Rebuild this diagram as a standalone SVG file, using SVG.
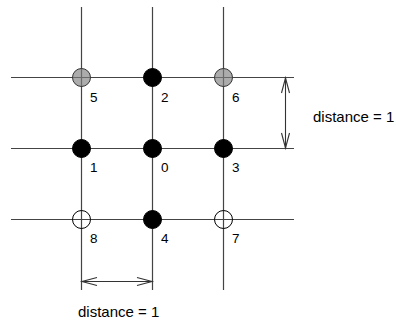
<svg xmlns="http://www.w3.org/2000/svg" width="396" height="324" viewBox="0 0 396 324">
<style>
.grid{stroke:#444;stroke-width:1.2;fill:none}
.dim{stroke:#333;stroke-width:1.1;fill:none}
.full{fill:#000;stroke:#000;stroke-width:1}
.half{fill:#808080;fill-opacity:0.65;stroke:#333;stroke-width:1}
.empty{fill:none;stroke:#000;stroke-width:1}
text{font-family:"Liberation Sans",Arial,sans-serif;fill:#000}
.lbl{font-size:13.5px}
.dist{font-size:15px}
</style>
<rect width="396" height="324" fill="#fff"/>
<g id="connectors">
<line class="grid" x1="81.5" y1="7" x2="81.5" y2="290"/>
<line class="grid" x1="152.5" y1="7" x2="152.5" y2="290"/>
<line class="grid" x1="223.5" y1="7" x2="223.5" y2="290"/>
<line class="grid" x1="11" y1="77.5" x2="294" y2="77.5"/>
<line class="grid" x1="11" y1="148.5" x2="294" y2="148.5"/>
<line class="grid" x1="11" y1="219.5" x2="294" y2="219.5"/>
<g id="dim-vertical">
<line class="dim" x1="285.5" y1="78" x2="285.5" y2="148"/>
<polyline class="dim" points="281.5,93 285.5,78 289.5,93"/>
<polyline class="dim" points="281.5,133 285.5,148 289.5,133"/>
</g>
<g id="dim-horizontal">
<line class="dim" x1="82" y1="281.5" x2="152" y2="281.5"/>
<polyline class="dim" points="97,277.5 82,281.5 97,285.5"/>
<polyline class="dim" points="137,277.5 152,281.5 137,285.5"/>
</g>
</g>
<g id="nodes">
<g id="n5"><circle class="half" cx="81.5" cy="77.5" r="9"/><text class="lbl" x="90" y="102">5</text></g>
<g id="n2"><circle class="full" cx="152.5" cy="77.5" r="9"/><text class="lbl" x="161" y="102">2</text></g>
<g id="n6"><circle class="half" cx="223.5" cy="77.5" r="9"/><text class="lbl" x="232" y="102">6</text></g>
<g id="n1"><circle class="full" cx="81.5" cy="148.5" r="9"/><text class="lbl" x="90" y="172">1</text></g>
<g id="n0"><circle class="full" cx="152.5" cy="148.5" r="9"/><text class="lbl" x="161" y="172">0</text></g>
<g id="n3"><circle class="full" cx="223.5" cy="148.5" r="9"/><text class="lbl" x="232" y="172">3</text></g>
<g id="n8"><circle class="empty" cx="81.5" cy="219.5" r="9"/><text class="lbl" x="90" y="243">8</text></g>
<g id="n4"><circle class="full" cx="152.5" cy="219.5" r="9"/><text class="lbl" x="161" y="243">4</text></g>
<g id="n7"><circle class="empty" cx="223.5" cy="219.5" r="9"/><text class="lbl" x="232" y="243">7</text></g>
</g>
<text class="dist" x="313" y="122">distance = 1</text>
<text class="dist" x="78" y="317">distance = 1</text>
</svg>
